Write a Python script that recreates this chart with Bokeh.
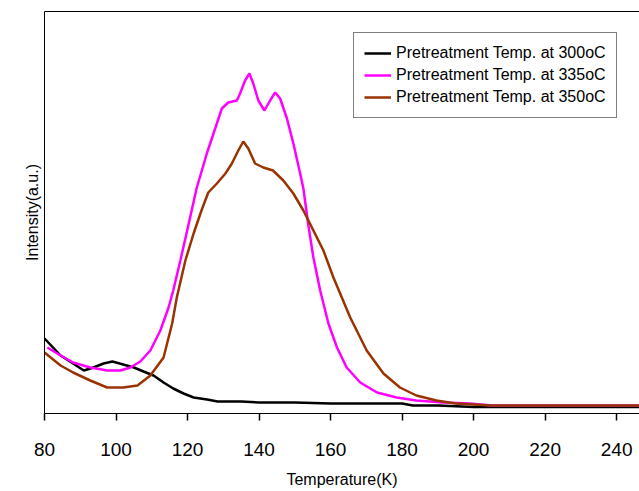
from bokeh.plotting import figure
from bokeh.models import Legend, LegendItem, LinearAxis, Range1d, FixedTicker
from bokeh.embed import file_html
from bokeh.resources import INLINE

# Pretreatment 300oC (black)
t_300 = [80, 84.5, 88, 91, 93.7, 96.5, 99, 102, 105, 107.7, 110.5, 113.3, 116, 118.9,
         121.7, 125.5, 128.4, 135, 140, 150, 160, 170, 180, 183, 190, 200, 220, 247]
i_300 = [75, 58, 50, 43, 46, 50, 52, 49, 46, 42, 38, 31, 25, 20,
         16, 14, 12, 12, 11, 11, 10, 10, 10, 8, 8, 6.5, 6.5, 6.5]

# Pretreatment 335oC (magenta)
t_335 = [80.8, 84.5, 88, 92.8, 97.6, 101.2, 104, 106.8, 109.6, 112.4, 114.7, 116, 118,
         119.9, 122.6, 125.4, 128.2, 129.6, 131.4, 133.8, 134.7, 136.1, 137.3, 138.4,
         139.8, 141.5, 143.1, 144.5, 145.9, 147.8, 149.6, 151.5, 152.4, 153.8, 155.2,
         157.1, 159.4, 161.8, 164.5, 168.3, 173, 178.5, 184, 191.5, 199, 205, 247]
i_335 = [66, 58, 51, 46, 43, 43, 46, 52, 63, 83, 106, 123, 153,
         183, 226, 260, 290, 305, 311, 313, 320, 333, 340, 330,
         313, 303, 313, 321, 315, 295, 270, 240, 225, 188, 156,
         123, 90, 66, 46, 31, 21, 16, 13, 11, 10, 8, 8]

# Pretreatment 350oC (brown)
t_350 = [80, 84.5, 88, 92.8, 97.5, 102, 106, 109.6, 113.3, 115.7, 117, 119.4, 121.7,
         123.9, 125.8, 128.2, 130.6, 132.4, 134.2, 135.6, 137, 138.9, 141.2, 143.9,
         146.8, 149.6, 152.4, 155.2, 158, 160.8, 165.5, 170.1, 174.8, 179.4, 184,
         189.6, 195, 205, 247]
i_350 = [61, 48, 41, 33, 26, 26, 28, 38, 56, 90, 116, 153, 180,
         203, 221, 230, 240, 250, 263, 272, 265, 250, 246, 243,
         233, 220, 203, 183, 163, 136, 96, 63, 40, 26, 18,
         13, 10, 8, 8]

x_ticks = [80, 100, 120, 140, 160, 180, 200, 220, 240]
series_labels = ["Pretreatment Temp. at 300oC",
                 "Pretreatment Temp. at 335oC",
                 "Pretreatment Temp. at 350oC"]
x_title = "Temperature(K)"
y_title = "Intensity(a.u.)"

FONT = "Liberation Sans"
X0, X1 = 80, 246.4

p = figure(width=639, height=491, output_backend="svg", toolbar_location=None,
           x_range=Range1d(X0, X1), y_range=Range1d(0, 402),
           min_border_left=44, min_border_right=0, min_border_top=11, min_border_bottom=78,
           outline_line_color=None, background_fill_color="white", border_fill_color="white")
p.xgrid.visible = False
p.ygrid.visible = False

r1 = p.line(t_300, i_300, line_color="black", line_width=2.5)
r2 = p.line(t_335, i_335, line_color="#FF00FF", line_width=2.5)
r3 = p.line(t_350, i_350, line_color="#993300", line_width=2.5)

xa = p.xaxis[0]
xa.ticker = FixedTicker(ticks=x_ticks)
xa.axis_label = x_title
xa.axis_label_text_font = FONT
xa.axis_label_text_font_size = "16px"
xa.axis_label_text_font_style = "normal"
xa.axis_label_text_color = "black"
xa.axis_label_text_line_height = 0.8
xa.axis_label_standoff = 12
xa.major_label_text_font = FONT
xa.major_label_text_font_size = "19px"
xa.major_label_text_color = "black"
xa.major_label_text_line_height = 0.8
xa.major_label_standoff = 22
xa.major_tick_out = 7
xa.major_tick_in = 0
xa.major_tick_line_width = 1.5
xa.minor_tick_line_color = None
xa.axis_line_color = "black"
xa.major_tick_line_color = "black"

ya = p.yaxis[0]
ya.ticker = FixedTicker(ticks=[])
ya.axis_label = y_title
ya.axis_label_text_font = FONT
ya.axis_label_text_font_size = "16px"
ya.axis_label_text_font_style = "normal"
ya.axis_label_text_color = "black"
ya.axis_label_standoff = 4
ya.major_tick_line_color = None
ya.minor_tick_line_color = None
ya.axis_line_color = "black"

top = LinearAxis(ticker=FixedTicker(ticks=[]), major_tick_line_color=None,
                 minor_tick_line_color=None, axis_line_color="black")
p.add_layout(top, "above")

legend = Legend(items=[LegendItem(label=series_labels[0], renderers=[r1]),
                       LegendItem(label=series_labels[1], renderers=[r2]),
                       LegendItem(label=series_labels[2], renderers=[r3])],
                location=(309, 295),
                label_text_font=FONT, label_text_font_size="16px", label_text_color="black",
                glyph_width=27, glyph_height=20, label_height=20, spacing=2,
                padding=10, label_standoff=5, margin=0,
                border_line_color="black", border_line_width=1,
                background_fill_color="white", background_fill_alpha=1)
p.add_layout(legend, "center")

open("out.html", "w").write(file_html(p, INLINE))
